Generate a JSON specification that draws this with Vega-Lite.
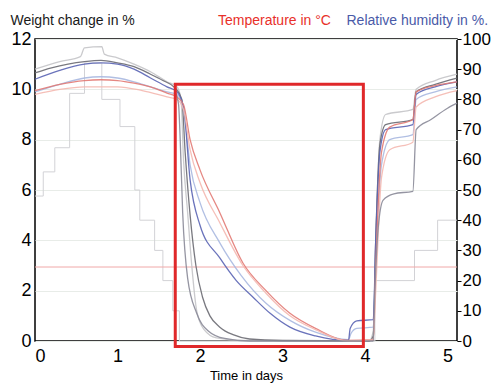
{
  "$schema": "https://vega.github.io/schema/vega-lite/v6.json",
  "width": 422,
  "height": 302,
  "autosize": {"type": "none"},
  "padding": {"left": 35, "top": 39, "right": 35, "bottom": 44},
  "background": "white",
  "config": {
    "font": "Liberation Sans",
    "view": {"stroke": "#000000", "strokeWidth": 1.5},
    "axis": {"labelFontSize": 18, "labelColor": "#000000", "labelFont": "Liberation Sans", "titleFont": "Liberation Sans", "titleFontWeight": "normal", "domain": false}
  },
  "title": {
    "text": "Temperature in °C",
    "anchor": "start",
    "frame": "group",
    "orient": "top",
    "dx": 183,
    "dy": 41,
    "fontSize": 14,
    "fontWeight": "normal",
    "color": "#e8302a",
    "font": "Liberation Sans",
    "baseline": "alphabetic",
    "offset": 15
  },
  "datasets": {
    "w": [
      {"s":"G2","t":0,"v":10.8},{"s":"G2","t":0.3,"v":11.1},{"s":"G2","t":0.55,"v":11.3},{"s":"G2","t":0.6,"v":11.65},{"s":"G2","t":0.81,"v":11.7},{"s":"G2","t":0.84,"v":11.4},{"s":"G2","t":1.0,"v":11.25},{"s":"G2","t":1.2,"v":11.0},{"s":"G2","t":1.4,"v":10.7},{"s":"G2","t":1.6,"v":10.3},{"s":"G2","t":1.72,"v":10.1},{"s":"G2","t":1.77,"v":9.6},{"s":"G2","t":1.8,"v":7.2},{"s":"G2","t":1.85,"v":5.1},{"s":"G2","t":1.9,"v":3.0},{"s":"G2","t":1.96,"v":1.2},{"s":"G2","t":2.05,"v":0.45},{"s":"G2","t":2.2,"v":0.12},{"s":"G2","t":2.5,"v":0.02},{"s":"G2","t":4.05,"v":0},{"s":"G2","t":4.1,"v":0.4},{"s":"G2","t":4.13,"v":4},{"s":"G2","t":4.18,"v":8},{"s":"G2","t":4.25,"v":9.0},{"s":"G2","t":4.58,"v":9.2},{"s":"G2","t":4.62,"v":10.0},{"s":"G2","t":4.85,"v":10.35},{"s":"G2","t":5.115,"v":10.6},
      {"s":"G1","t":0,"v":10.65},{"s":"G1","t":0.2,"v":10.85},{"s":"G1","t":0.4,"v":11.0},{"s":"G1","t":0.6,"v":11.1},{"s":"G1","t":0.8,"v":11.15},{"s":"G1","t":1.0,"v":11.05},{"s":"G1","t":1.2,"v":10.9},{"s":"G1","t":1.4,"v":10.6},{"s":"G1","t":1.55,"v":10.35},{"s":"G1","t":1.7,"v":10.05},{"s":"G1","t":1.78,"v":9.6},{"s":"G1","t":1.82,"v":7.5},{"s":"G1","t":1.88,"v":5.0},{"s":"G1","t":1.95,"v":3.0},{"s":"G1","t":2.03,"v":1.75},{"s":"G1","t":2.12,"v":1.0},{"s":"G1","t":2.24,"v":0.55},{"s":"G1","t":2.4,"v":0.25},{"s":"G1","t":2.6,"v":0.08},{"s":"G1","t":3.0,"v":0.02},{"s":"G1","t":4.05,"v":0},{"s":"G1","t":4.1,"v":0.2},{"s":"G1","t":4.13,"v":4},{"s":"G1","t":4.18,"v":7.8},{"s":"G1","t":4.25,"v":8.6},{"s":"G1","t":4.58,"v":8.8},{"s":"G1","t":4.62,"v":9.9},{"s":"G1","t":4.85,"v":10.2},{"s":"G1","t":5.115,"v":10.45},
      {"s":"B2","t":0,"v":9.9},{"s":"B2","t":0.3,"v":10.2},{"s":"B2","t":0.6,"v":10.45},{"s":"B2","t":0.8,"v":10.5},{"s":"B2","t":1.0,"v":10.45},{"s":"B2","t":1.2,"v":10.3},{"s":"B2","t":1.4,"v":10.1},{"s":"B2","t":1.6,"v":9.9},{"s":"B2","t":1.72,"v":9.8},{"s":"B2","t":1.8,"v":9.2},{"s":"B2","t":1.88,"v":7.0},{"s":"B2","t":2.0,"v":5.5},{"s":"B2","t":2.24,"v":3.9},{"s":"B2","t":2.5,"v":2.6},{"s":"B2","t":2.8,"v":1.5},{"s":"B2","t":3.1,"v":0.8},{"s":"B2","t":3.4,"v":0.35},{"s":"B2","t":3.8,"v":0.05},{"s":"B2","t":3.83,"v":0.3},{"s":"B2","t":3.9,"v":0.5},{"s":"B2","t":4.1,"v":0.55},{"s":"B2","t":4.13,"v":3},{"s":"B2","t":4.2,"v":7},{"s":"B2","t":4.3,"v":8.0},{"s":"B2","t":4.58,"v":8.2},{"s":"B2","t":4.62,"v":9.6},{"s":"B2","t":4.85,"v":9.9},{"s":"B2","t":5.115,"v":10.1},
      {"s":"B1","t":0,"v":10.4},{"s":"B1","t":0.3,"v":10.75},{"s":"B1","t":0.6,"v":11.0},{"s":"B1","t":0.8,"v":11.05},{"s":"B1","t":1.0,"v":11.0},{"s":"B1","t":1.2,"v":10.8},{"s":"B1","t":1.4,"v":10.45},{"s":"B1","t":1.6,"v":10.1},{"s":"B1","t":1.72,"v":9.9},{"s":"B1","t":1.8,"v":9.3},{"s":"B1","t":1.88,"v":6.4},{"s":"B1","t":2.0,"v":4.6},{"s":"B1","t":2.24,"v":3.3},{"s":"B1","t":2.44,"v":2.4},{"s":"B1","t":2.64,"v":1.75},{"s":"B1","t":2.85,"v":1.1},{"s":"B1","t":3.09,"v":0.55},{"s":"B1","t":3.4,"v":0.2},{"s":"B1","t":3.8,"v":0.02},{"s":"B1","t":3.82,"v":0.5},{"s":"B1","t":3.9,"v":0.8},{"s":"B1","t":4.1,"v":0.85},{"s":"B1","t":4.13,"v":4},{"s":"B1","t":4.18,"v":7.5},{"s":"B1","t":4.25,"v":8.4},{"s":"B1","t":4.58,"v":8.6},{"s":"B1","t":4.62,"v":9.8},{"s":"B1","t":4.85,"v":10.1},{"s":"B1","t":5.115,"v":10.3},
      {"s":"R1","t":0,"v":9.95},{"s":"R1","t":0.3,"v":10.2},{"s":"R1","t":0.6,"v":10.35},{"s":"R1","t":0.8,"v":10.38},{"s":"R1","t":1.0,"v":10.35},{"s":"R1","t":1.2,"v":10.25},{"s":"R1","t":1.4,"v":10.1},{"s":"R1","t":1.6,"v":9.85},{"s":"R1","t":1.72,"v":9.7},{"s":"R1","t":1.8,"v":9.4},{"s":"R1","t":1.88,"v":8.0},{"s":"R1","t":2.0,"v":6.8},{"s":"R1","t":2.24,"v":5.1},{"s":"R1","t":2.52,"v":3.1},{"s":"R1","t":2.8,"v":2.0},{"s":"R1","t":3.09,"v":1.1},{"s":"R1","t":3.4,"v":0.5},{"s":"R1","t":3.78,"v":0.02},{"s":"R1","t":4.1,"v":0.05},{"s":"R1","t":4.13,"v":3},{"s":"R1","t":4.2,"v":7.5},{"s":"R1","t":4.3,"v":8.5},{"s":"R1","t":4.58,"v":8.8},{"s":"R1","t":4.62,"v":9.9},{"s":"R1","t":4.85,"v":10.15},{"s":"R1","t":5.115,"v":10.3},
      {"s":"P1","t":0,"v":9.8},{"s":"P1","t":0.3,"v":10.0},{"s":"P1","t":0.6,"v":10.1},{"s":"P1","t":1.0,"v":10.1},{"s":"P1","t":1.3,"v":9.95},{"s":"P1","t":1.6,"v":9.7},{"s":"P1","t":1.72,"v":9.6},{"s":"P1","t":1.8,"v":9.2},{"s":"P1","t":1.88,"v":7.6},{"s":"P1","t":2.0,"v":6.3},{"s":"P1","t":2.24,"v":4.7},{"s":"P1","t":2.52,"v":3.0},{"s":"P1","t":2.8,"v":1.9},{"s":"P1","t":3.09,"v":1.0},{"s":"P1","t":3.4,"v":0.45},{"s":"P1","t":3.8,"v":0.0},{"s":"P1","t":4.1,"v":0.05},{"s":"P1","t":4.13,"v":2},{"s":"P1","t":4.2,"v":6.5},{"s":"P1","t":4.3,"v":7.6},{"s":"P1","t":4.58,"v":7.9},{"s":"P1","t":4.62,"v":9.3},{"s":"P1","t":4.85,"v":9.7},{"s":"P1","t":5.115,"v":9.95},
      {"s":"G3","t":1.7,"v":9.9},{"s":"G3","t":1.74,"v":9.4},{"s":"G3","t":1.76,"v":8},{"s":"G3","t":1.79,"v":5.1},{"s":"G3","t":1.85,"v":2.5},{"s":"G3","t":1.96,"v":1.1},{"s":"G3","t":2.1,"v":0.4},{"s":"G3","t":2.3,"v":0.1},{"s":"G3","t":2.6,"v":0},{"s":"G3","t":4.1,"v":0},{"s":"G3","t":4.12,"v":2},{"s":"G3","t":4.16,"v":4.5},{"s":"G3","t":4.22,"v":5.6},{"s":"G3","t":4.35,"v":5.85},{"s":"G3","t":4.58,"v":5.95},{"s":"G3","t":4.62,"v":8.4},{"s":"G3","t":4.8,"v":8.8},{"s":"G3","t":5.0,"v":9.25},{"s":"G3","t":5.115,"v":9.45}
    ],
    "rh": [
      {"t":0,"v":48},{"t":0.1,"v":56},{"t":0.24,"v":64},{"t":0.42,"v":82},{"t":0.6,"v":92},{"t":0.81,"v":80},{"t":1.03,"v":71},{"t":1.21,"v":50},{"t":1.27,"v":40},{"t":1.45,"v":30},{"t":1.55,"v":20},{"t":1.67,"v":10},{"t":1.75,"v":0},{"t":4.12,"v":20},{"t":4.6,"v":30},{"t":4.88,"v":40},{"t":5.115,"v":40}
    ],
    "temp": [{"t":0,"v":24.5},{"t":5.115,"v":24.5}],
    "box": [{"x":1.7,"x2":3.98,"y":-0.22,"y2":10.2}]
  },
  "layer": [
    {
      "data": {"name": "rh"},
      "mark": {"type": "line", "interpolate": "step-after", "color": "#d2d2d6", "strokeWidth": 1},
      "encoding": {
        "x": {"field": "t", "type": "quantitative", "scale": {"domain": [0, 5.115], "nice": false, "zero": false},
              "axis": {"values": [0,1,2,3,4,5], "format": "d", "ticks": false, "grid": false, "labelPadding": 6, "title": "Time in days", "titleFontSize": 13, "titleColor": "#000000", "titlePadding": 4}},
        "y": {"field": "v", "type": "quantitative", "scale": {"domain": [0, 100], "nice": false},
              "axis": {"orient": "right", "values": [0,10,20,30,40,50,60,70,80,90,100], "ticks": true, "tickSize": 4, "tickColor": "#000000", "grid": false, "labelPadding": 1, "labelFontSize": 17,
                       "title": "Relative humidity in %.", "titleAngle": 0, "titleAlign": "left", "titleBaseline": "alphabetic", "titleX": -111, "titleY": -15, "titleFontSize": 14, "titleColor": "#4a5aa8"}}
      }
    },
    {
      "data": {"name": "temp"},
      "mark": {"type": "line", "color": "#f0a8a8", "strokeWidth": 1},
      "encoding": {
        "x": {"field": "t", "type": "quantitative"},
        "y": {"field": "v", "type": "quantitative", "scale": {"domain": [0, 100], "nice": false}, "axis": null}
      }
    },
    {
      "data": {"name": "w"},
      "mark": {"type": "line", "strokeWidth": 1.3, "opacity": 0.9, "interpolate": "monotone"},
      "encoding": {
        "x": {"field": "t", "type": "quantitative"},
        "y": {"field": "v", "type": "quantitative", "scale": {"domain": [0, 12], "nice": false},
              "axis": {"values": [0,2,4,6,8,10,12], "ticks": false, "grid": true, "gridColor": "#e8ece8", "gridWidth": 1, "labelPadding": 4,
                       "title": "Weight change in %", "titleAngle": 0, "titleAlign": "left", "titleBaseline": "alphabetic", "titleX": -25, "titleY": -15, "titleFontSize": 14, "titleColor": "#1a1a1a"}},
        "color": {"field": "s", "type": "nominal", "legend": null,
                  "scale": {"domain": ["G2","G1","B2","B1","P1","R1","G3"], "range": ["#c4c4c8","#6a6a72","#a8b8e0","#5a64b4","#f4b8b0","#e27a74","#8a8a98"]}}
      }
    },
    {
      "data": {"name": "box"},
      "mark": {"type": "rect", "filled": false, "stroke": "#e0282a", "strokeWidth": 3},
      "encoding": {
        "x": {"field": "x", "type": "quantitative"},
        "x2": {"field": "x2"},
        "y": {"field": "y", "type": "quantitative", "scale": {"domain": [0, 12], "nice": false}, "axis": null},
        "y2": {"field": "y2"}
      }
    }
  ],
  "resolve": {"scale": {"y": "independent"}}
}
